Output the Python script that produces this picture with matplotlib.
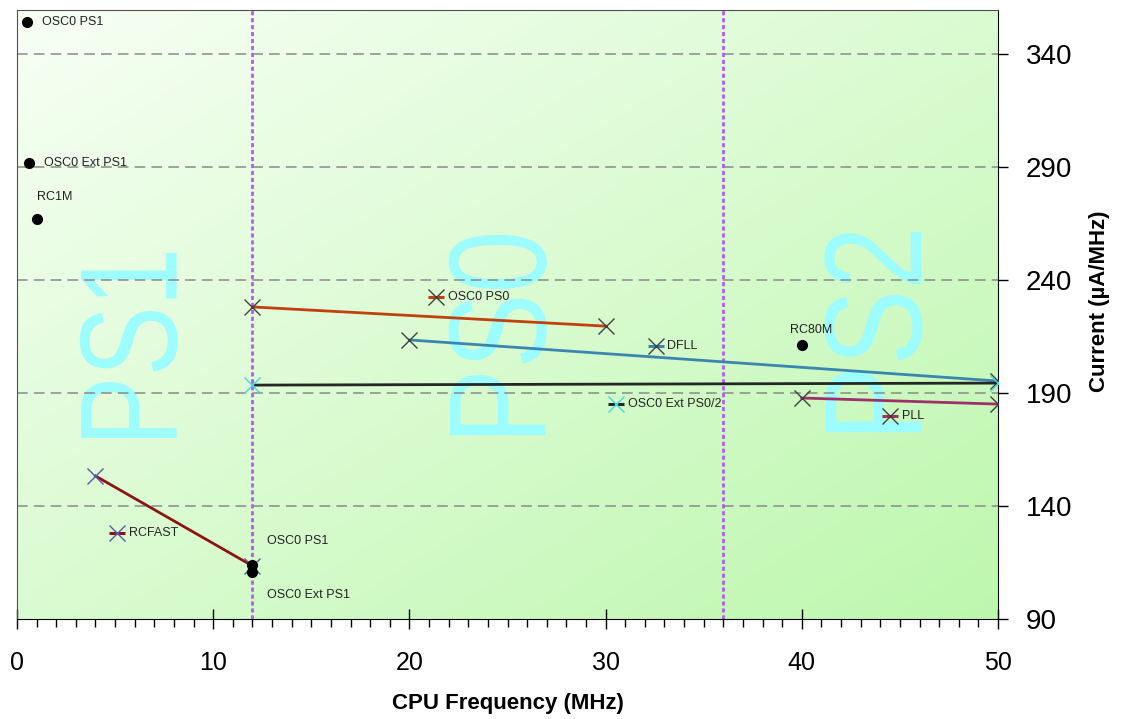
import numpy as np
import matplotlib
matplotlib.use("Agg")
import matplotlib.pyplot as plt
from matplotlib.textpath import TextPath
from matplotlib.patches import PathPatch
from matplotlib.font_manager import FontProperties
from matplotlib.transforms import Affine2D
from matplotlib.ticker import MultipleLocator

plt.rcParams['font.family'] = ['Liberation Sans', 'DejaVu Sans']

# line series (CPU frequency in MHz, current in uA/MHz)
rcfast_x = [4.0, 12.0]
rcfast_y = [153.3, 113.5]
osc0_ps0_x = [12.0, 30.0]
osc0_ps0_y = [228.1, 219.6]
dfll_x = [20.0, 50.0]
dfll_y = [213.5, 195.3]
osc0_ext_x = [12.0, 50.0]
osc0_ext_y = [193.5, 194.4]
pll_x = [40.0, 50.0]
pll_y = [187.8, 185.1]

# single points drawn as black dots
dot_names = ["OSC0 PS1", "OSC0 Ext PS1", "RC1M", "RC80M", "OSC0 PS1", "OSC0 Ext PS1"]
dot_x = [0.5, 0.6, 1.0, 40.0, 12.0, 12.0]
dot_y = [354.2, 291.8, 267.0, 211.2, 113.9, 110.8]

# inline legend keys
key_names = ["RCFAST", "OSC0 PS0", "DFLL", "OSC0 Ext PS0/2", "PLL"]
key_x = [5.1, 21.35, 32.55, 30.55, 44.5]
key_y = [128.0, 232.5, 210.8, 185.1, 179.8]

# power scaling zones
zone_edges = [12, 36]
zone_names = ["PS1", "PS0", "PS2"]

fig = plt.figure(figsize=(11.24, 7.19), dpi=100)
ax = fig.add_axes([17 / 1124, 1 - 619 / 719, 981 / 1124, 609 / 719])
ax.set_xlim(0, 50)
ax.set_ylim(90, 359.5)

# diagonal white -> green background
H, W = 200, 200
u = np.linspace(0, 1, W)[None, :]
v = np.linspace(0, 1, H)[:, None]
t = (u + (1 - v)) / 2
c0 = np.array([0.97, 1.0, 0.96])
c1 = np.array([0.74, 0.97, 0.68])
grad = c0 + t[..., None] * (c1 - c0)
ax.imshow(grad, extent=[0, 50, 90, 359.5], origin='lower', aspect='auto', zorder=0)

# big zone labels, stretched into their boxes
zone_boxes = [(3.2, 8.2, 170.1, 252.0), (22.0, 27.0, 171.4, 260.0), (41.15, 46.15, 172.7, 261.2)]
fp = FontProperties(family='Liberation Sans')
for name, (x0, x1, y0, y1) in zip(zone_names, zone_boxes):
    tp = TextPath((0, 0), name, size=1, prop=fp)
    ext = tp.get_extents()
    sx = (x1 - x0) / ext.height
    sy = (y1 - y0) / ext.width
    mtx = Affine2D(np.array([[0, -sx, x1 + sx * ext.y0],
                             [sy, 0, y0 - sy * ext.x0],
                             [0, 0, 1]]))
    ax.add_patch(PathPatch(tp.transformed(mtx), facecolor='#9cfcff', edgecolor='none', zorder=0.5))

# grid and zone separators
for gy in [140, 190, 240, 290, 340]:
    ax.axhline(gy, color='#8a8a8a', lw=1.1, ls=(0, (7, 4)), zorder=1)
for zx in zone_edges:
    ax.axvline(zx, color='#b25cf0', lw=2, ls=(0, (1.5, 1)), zorder=1.2)

xkw = dict(marker='x', ms=11, mew=1.0, zorder=3)
ax.plot(rcfast_x, rcfast_y, color='#8c1414', lw=2, **xkw, mec='#5858a8')
ax.plot(osc0_ps0_x, osc0_ps0_y, color='#c0400e', lw=2, **xkw, mec='#404040')
ax.plot(dfll_x, dfll_y, color='#3a86b0', lw=2, **xkw, mec='#404040')
ax.plot(osc0_ext_x, osc0_ext_y, color='#262626', lw=2, **xkw, mec='#40d8e8')
ax.plot(pll_x, pll_y, color='#a0306c', lw=2, **xkw, mec='#404040')

key_colors = ['#8c1414', '#c0400e', '#3a86b0', '#262626', '#a0306c']
key_mec = ['#5858a8', '#404040', '#404040', '#40d8e8', '#404040']
for name, kx, ky, c, mc in zip(key_names, key_x, key_y, key_colors, key_mec):
    ax.plot(kx, ky, marker='_', ms=12, mew=2.2, color=c, zorder=3)
    ax.plot(kx, ky, marker='x', ms=11, mew=1.0, color=mc, zorder=3.1)
    ax.annotate(name, (kx, ky), xytext=(8.5, 0), textcoords='offset points',
                va='center', ha='left', fontsize=9, color='#222222', zorder=4)

ax.plot(dot_x, dot_y, 'o', color='black', ms=7, ls='none', zorder=4)
dot_offsets = [(10.8, 0), (10.8, 0), (0, 15.8), (6.5, 10.8), (10.8, 17.3), (10.8, -16.6)]
dot_ha = ['left', 'left', 'left', 'center', 'left', 'left']
for name, dx, dy, off, ha in zip(dot_names, dot_x, dot_y, dot_offsets, dot_ha):
    ax.annotate(name, (dx, dy), xytext=off, textcoords='offset points',
                va='center', ha=ha, fontsize=9, color='#222222', zorder=4)

# axes styling
ax.xaxis.set_major_locator(MultipleLocator(10))
ax.xaxis.set_minor_locator(MultipleLocator(1))
ax.set_yticks([90, 140, 190, 240, 290, 340])
ax.yaxis.tick_right()
ax.yaxis.set_label_position('right')
ax.tick_params(axis='x', which='major', direction='inout', length=14, width=1, labelsize=18, pad=16)
ax.tick_params(axis='x', which='minor', direction='out', length=6, width=1)
ax.tick_params(axis='y', which='major', direction='out', length=7, width=1, labelsize=20, pad=13)
ax.spines['top'].set_color('#505050')
ax.spines['left'].set_color('#505050')
ax.spines['right'].set_color('black')
ax.spines['bottom'].set_color('black')

ax.set_xlabel("CPU Frequency (MHz)", fontsize=16, fontweight='bold', labelpad=13)
ax.set_ylabel("Current (µA/MHz)", fontsize=16, fontweight='bold')
ax.yaxis.set_label_coords(1.093, 0.522)

fig.savefig("out.png", dpi=100)
